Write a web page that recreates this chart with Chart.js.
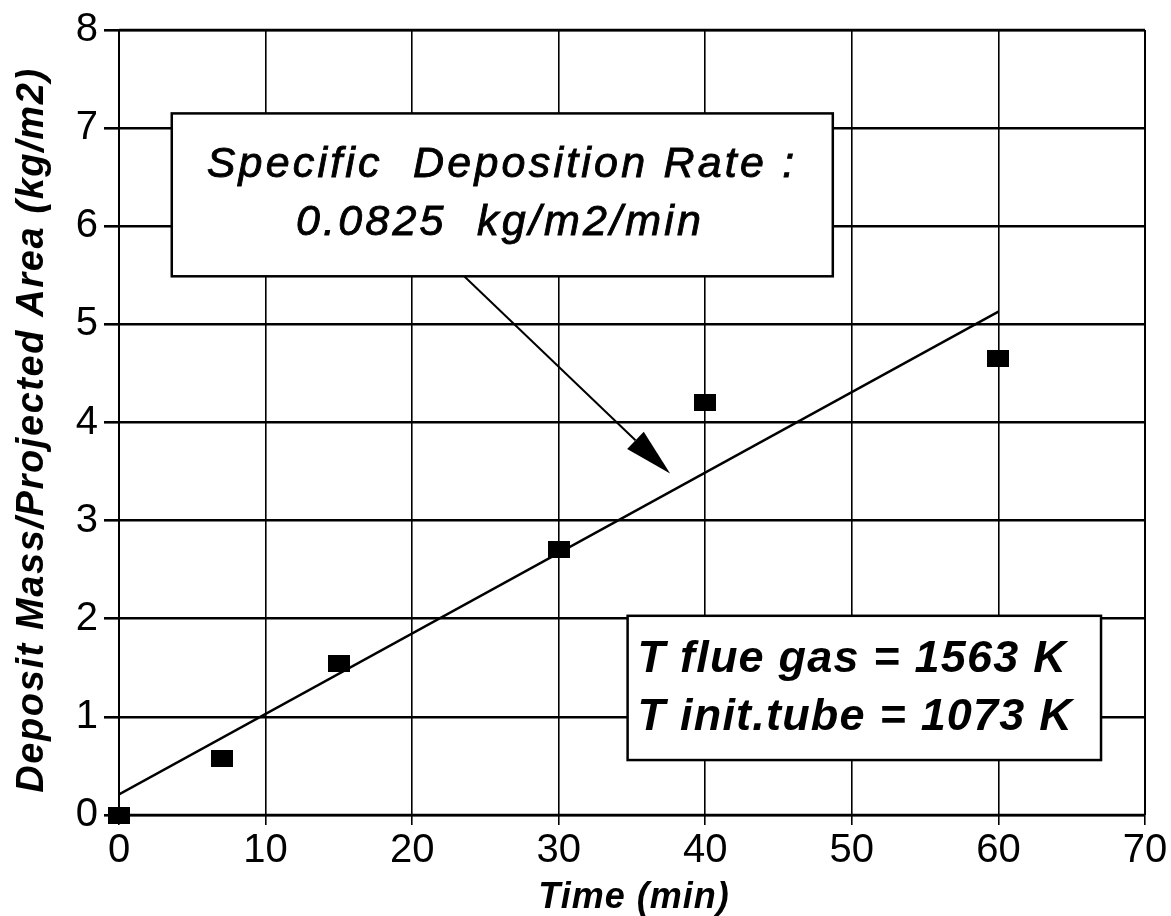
<!DOCTYPE html>
<html>
<head>
<meta charset="utf-8">
<script src="https://cdn.jsdelivr.net/npm/chart.js@4.4.0/dist/chart.umd.min.js"></script>
<style>
  html, body { margin: 0; padding: 0; background: #fff; }
  #wrap { width: 1171px; height: 916px; position: relative; }
</style>
</head>
<body>
<div id="wrap"><canvas id="c" width="1171" height="916"></canvas></div>
<script>
// ---- data ----
const timeMin = [0, 7, 15, 30, 40, 60];
const depositMass = [0, 0.58, 1.54, 2.71, 4.2, 4.65];
const fitX = [0, 60];
const fitY = [0.21, 5.13];
const xTicks = [0, 10, 20, 30, 40, 50, 60, 70];
const yTicks = [0, 1, 2, 3, 4, 5, 6, 7, 8];
const xTitle = 'Time (min)';
const yTitle = 'Deposit Mass/Projected Area (kg/m2)';
const rateLines = ['Specific  Deposition Rate :', '0.0825  kg/m2/min'];
const condLines = ['T flue gas = 1563 K', 'T init.tube = 1073 K'];

const FONT = '"Liberation Sans", Arial, Helvetica, sans-serif';

// rectangular marker
const marker = document.createElement('canvas');
marker.width = 22; marker.height = 17;
(function(){ const g = marker.getContext('2d'); g.fillStyle = '#000'; g.fillRect(0,0,22,17); })();

function setLS(ctx, v) { try { ctx.letterSpacing = v + 'px'; } catch(e) {} }

const annotations = {
  id: 'annot',
  afterDatasetsDraw(chart) {
    const ctx = chart.ctx;
    const xs = chart.scales.x, ys = chart.scales.y;
    const px = v => xs.getPixelForValue(v), py = v => ys.getPixelForValue(v);
    ctx.save();
    // arrow
    const x1 = px(23.55), y1 = py(5.49), x2 = px(37.6), y2 = py(3.48);
    const ang = Math.atan2(y2 - y1, x2 - x1);
    const headLen = 48, headHalf = 12;
    const bx = x2 - headLen * Math.cos(ang), by = y2 - headLen * Math.sin(ang);
    ctx.strokeStyle = '#000'; ctx.lineWidth = 2;
    ctx.beginPath(); ctx.moveTo(x1, y1); ctx.lineTo(bx, by); ctx.stroke();
    ctx.fillStyle = '#000';
    ctx.beginPath();
    ctx.moveTo(x2, y2);
    ctx.lineTo(bx + headHalf * Math.sin(ang), by - headHalf * Math.cos(ang));
    ctx.lineTo(bx - headHalf * Math.sin(ang), by + headHalf * Math.cos(ang));
    ctx.closePath(); ctx.fill();

    // box 1
    let L = px(3.6), R = px(48.7), T = py(7.15), B = py(5.49);
    ctx.fillStyle = '#fff'; ctx.fillRect(L, T, R - L, B - T);
    ctx.lineWidth = 2.5; ctx.strokeStyle = '#000'; ctx.strokeRect(L, T, R - L, B - T);
    ctx.fillStyle = '#000';
    ctx.font = 'italic 43px ' + FONT;
    ctx.textAlign = 'center'; ctx.textBaseline = 'alphabetic';
    setLS(ctx, 3.2);
    ctx.lineWidth = 0.9;
    ctx.fillText(rateLines[0], 502, T + 64);
    ctx.strokeText(rateLines[0], 502, T + 64);
    ctx.fillText(rateLines[1], 500, T + 122);
    ctx.strokeText(rateLines[1], 500, T + 122);

    // box 2
    L = px(34.7); R = px(67.0); T = py(2.03); B = py(0.56);
    ctx.fillStyle = '#fff'; ctx.fillRect(L, T, R - L, B - T);
    ctx.lineWidth = 2.5; ctx.strokeRect(L, T, R - L, B - T);
    ctx.fillStyle = '#000';
    ctx.font = 'italic bold 45px ' + FONT;
    setLS(ctx, 1.2);
    ctx.textAlign = 'left';
    ctx.fillText(condLines[0], L + 10, T + 56);
    ctx.fillText(condLines[1], L + 10, T + 114);
    ctx.restore();
  }
};

const frame = {
  id: 'frame',
  afterDraw(chart) {
    const a = chart.chartArea, ctx = chart.ctx;
    ctx.save();
    ctx.strokeStyle = '#000';
    ctx.lineWidth = 2.5;
    ctx.beginPath(); ctx.moveTo(a.left, a.top); ctx.lineTo(a.right, a.top); ctx.stroke();
    ctx.beginPath(); ctx.moveTo(a.left, a.bottom); ctx.lineTo(a.right, a.bottom); ctx.stroke();
    ctx.lineWidth = 2;
    ctx.beginPath(); ctx.moveTo(a.left, a.top); ctx.lineTo(a.left, a.bottom); ctx.stroke();
    ctx.beginPath(); ctx.moveTo(a.right, a.top); ctx.lineTo(a.right, a.bottom); ctx.stroke();

    // axis titles
    ctx.fillStyle = '#000';
    ctx.textAlign = 'center'; ctx.textBaseline = 'alphabetic';
    ctx.font = 'italic bold 36px ' + FONT;
    setLS(ctx, 1);
    ctx.fillText(xTitle, (a.left + a.right) / 2 + 2, 908);
    ctx.font = 'italic bold 38px ' + FONT;
    setLS(ctx, 1.6);
    ctx.translate(43, 430);
    ctx.rotate(-Math.PI / 2);
    ctx.fillText(yTitle, 0, 0);
    ctx.restore();
  }
};

new Chart(document.getElementById('c'), {
  type: 'scatter',
  data: {
    datasets: [
      {
        label: 'fit',
        data: fitX.map((x, i) => ({ x, y: fitY[i] })),
        showLine: true,
        borderColor: '#000',
        borderWidth: 2.4,
        pointRadius: 0,
        order: 2
      },
      {
        label: 'data',
        data: timeMin.map((x, i) => ({ x, y: depositMass[i] })),
        showLine: false,
        pointStyle: marker,
        pointRadius: 11,
        backgroundColor: '#000',
        clip: false,
        order: 1
      }
    ]
  },
  options: {
    responsive: false,
    animation: false,
    devicePixelRatio: 1,
    layout: { padding: { left: 0, right: 26, top: 28, bottom: 0 } },
    plugins: { legend: { display: false }, tooltip: { enabled: false } },
    scales: {
      x: {
        type: 'linear', min: 0, max: 70,
        afterBuildTicks: s => { s.ticks = xTicks.map(v => ({ value: v })); },
        afterFit: s => { s.height = 101; },
        grid: { color: '#000', lineWidth: 1.6, drawTicks: true, tickLength: 10 },
        border: { display: false },
        ticks: { color: '#000', font: { family: FONT, size: 40 }, padding: 2, maxRotation: 0 },
        title: { display: false }
      },
      y: {
        type: 'linear', min: 0, max: 8,
        afterBuildTicks: s => { s.ticks = yTicks.map(v => ({ value: v })); },
        afterFit: s => { s.width = 119; },
        grid: { color: '#000', lineWidth: 2.6, tickLength: 15 },
        border: { display: false },
        ticks: { color: '#000', font: { family: FONT, size: 40 }, padding: 6 },
        title: { display: false }
      }
    }
  },
  plugins: [annotations, frame]
});
</script>
</body>
</html>
